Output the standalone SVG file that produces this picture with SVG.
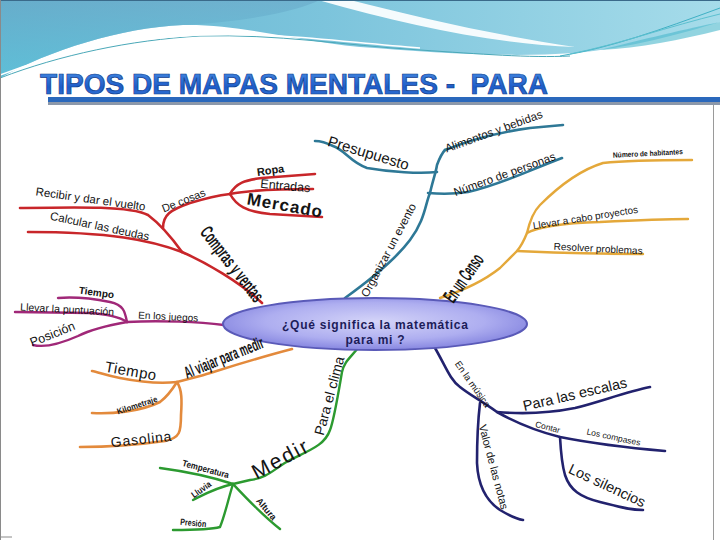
<svg xmlns="http://www.w3.org/2000/svg" width="720" height="540" viewBox="0 0 720 540">
<defs>
<linearGradient id="hdr" x1="0" y1="0" x2="1" y2="0">
<stop offset="0" stop-color="#62b4d0"/>
<stop offset="0.45" stop-color="#7cc4dc"/>
<stop offset="1" stop-color="#a6dcea"/>
</linearGradient>
<linearGradient id="hdrL" x1="0" y1="0" x2="0" y2="1">
<stop offset="0" stop-color="#6aa8c8"/>
<stop offset="1" stop-color="#5cc6dc"/>
</linearGradient>
<linearGradient id="ttl" x1="0" y1="0" x2="0" y2="1">
<stop offset="0" stop-color="#4a8fe6"/>
<stop offset="0.6" stop-color="#1d5cc8"/>
<stop offset="1" stop-color="#3a7ad8"/>
</linearGradient>
<radialGradient id="ell" cx="0.5" cy="0.45" r="0.6">
<stop offset="0" stop-color="#d4d4f8"/>
<stop offset="0.6" stop-color="#aeaef0"/>
<stop offset="1" stop-color="#7c7cdc"/>
</radialGradient>
<style>
.c path{fill:none;stroke-linecap:round;stroke-linejoin:round}
.red{stroke:#c8262a;stroke-width:2.6}
.mag{stroke:#a02878;stroke-width:2.4}
.org{stroke:#e38a3c;stroke-width:2.6}
.gld{stroke:#e4a83a;stroke-width:2.4}
.grn{stroke:#2c9a30;stroke-width:2.4}
.tea{stroke:#2e7896;stroke-width:2.6}
.nav{stroke:#22226e;stroke-width:2.6}
text{font-family:"Liberation Sans",Arial,sans-serif;fill:#141414}
.n{font-family:"Liberation Sans Narrow","Liberation Sans",Arial,sans-serif;font-weight:bold}
.b{font-weight:bold}
.title{font-family:"Liberation Sans Narrow","Liberation Sans",Arial,sans-serif;font-weight:bold;font-size:29px;fill:url(#ttl);stroke:#0c3a8c;stroke-width:0.7;white-space:pre}
.ct{font-weight:bold;font-size:12px;fill:#1c1c58;text-anchor:middle}
</style>
</defs>
<rect width="720" height="540" fill="#ffffff"/>
<!-- header -->
<path d="M0,0 H720 V22 C680,34 630,48 575,53 C500,58 430,52 360,47 C290,40 240,24 183,25 C120,28 50,50 0,78 Z" fill="url(#hdr)"/>
<path d="M0,0 H320 C300,10 250,22 183,25 C120,28 50,50 0,78 Z" fill="url(#hdrL)" opacity="0.6"/>
<path d="M318,0 L350,0 C420,18 500,36 575,47 C495,44 410,26 318,0 Z" fill="#ffffff" opacity="0.92"/>
<path d="M0,78 C60,55 130,40 200,36 C280,34 340,45 420,50 C480,54 530,58 570,56" fill="none" stroke="#4aa8b8" stroke-width="1"/>
<path d="M0,75 C60,52 130,38 200,35 C280,32 340,42 420,48" fill="none" stroke="#ffffff" stroke-width="1.5"/>
<path d="M560,56 C610,48 660,30 720,8" fill="none" stroke="#3fb0c4" stroke-width="1"/>
<path d="M570,54 C620,44 670,26 720,14" fill="none" stroke="#5cc0d0" stroke-width="1"/>
<path d="M600,50 C640,40 690,28 720,22 L720,30 C680,40 640,48 600,50 Z" fill="#4ab8cc" opacity="0.6"/>
<line x1="0" y1="0.5" x2="720" y2="0.5" stroke="#3a6a8a" stroke-width="1"/>
<!-- frame -->
<line x1="0.5" y1="0" x2="0.5" y2="540" stroke="#8a8a8a" stroke-width="1"/>
<line x1="713.5" y1="100" x2="713.5" y2="540" stroke="#9a9a9a" stroke-width="1"/>
<line x1="0" y1="537" x2="12" y2="537" stroke="#8a8a8a" stroke-width="1"/>
<!-- title -->
<g id="title">
<text class="title" x="40" y="94" textLength="508" lengthAdjust="spacingAndGlyphs" xml:space="preserve">TIPOS DE MAPAS MENTALES -  PARA</text>
<rect x="48" y="97" width="672" height="5" fill="#2a68bc"/>
<rect x="48" y="102" width="672" height="3" fill="#8c98aa"/>
</g>
<!-- connectors -->
<g id="connectors" class="c">
<path class="red" d="M262,303 C240,282 205,262 182,252"/>
<path class="red" d="M182,252 C150,240 110,232 28,232"/>
<path class="red" d="M182,252 C172,238 160,224 148,215 C130,206 80,207 20,208"/>
<path class="red" d="M163,228 C163,215 170,210 190,203 C210,197 222,195 230,194"/>
<path class="red" d="M230,194 C236,183 245,180 262,178 L315,174"/>
<path class="red" d="M230,194 C250,190 280,189 313,189"/>
<path class="red" d="M230,194 C236,205 246,212 270,214 L322,217"/>
<path class="mag" d="M224,325 C200,322 160,320 127,322"/>
<path class="mag" d="M127,322 C125,312 124,305 110,302 C90,298 70,297 58,298"/>
<path class="mag" d="M15,312 L90,313 C105,314 118,316 127,322"/>
<path class="mag" d="M127,322 C110,325 90,330 78,336 C60,344 45,348 33,345"/>
<path class="org" d="M292,349 C250,360 220,370 200,376 L177,382"/>
<path class="org" d="M177,382 C160,384 140,382 120,378 C105,375 98,372 92,371"/>
<path class="org" d="M177,382 C172,390 168,396 160,402 C140,412 110,414 92,413"/>
<path class="org" d="M177,382 C182,390 182,400 181,415 C181,432 180,438 165,441 C130,446 100,447 80,447"/>
<path class="grn" d="M358,348 C350,358 344,362 342,372 C338,395 334,420 330,430 C325,445 310,450 290,460 C275,468 268,478 250,480 L233,484"/>
<path class="grn" d="M233,484 C215,478 190,472 160,468"/>
<path class="grn" d="M233,484 C215,488 205,494 193,500"/>
<path class="grn" d="M233,484 C228,500 225,515 220,527 C210,530 190,530 173,530"/>
<path class="grn" d="M233,484 C248,500 262,515 280,529"/>
<path class="tea" d="M345,298 C370,280 395,260 410,240 C425,220 425,205 430,193 C433,180 436,172 437,165 C440,157 443,152 445,150"/>
<path class="tea" d="M445,150 C470,140 500,132 530,128 L563,125"/>
<path class="tea" d="M437,172 C420,174 390,172 367,168 C350,162 345,150 333,146 C325,142 320,141 315,141"/>
<path class="tea" d="M428,193 C440,194 455,194 468,192 C500,185 530,170 562,158"/>
<path class="gld" d="M440,298 C465,290 485,280 500,268 C510,258 515,253 517,251 C522,245 525,238 527,233 C530,220 535,210 540,205 C560,185 580,170 603,163 C630,160 660,160 692,160"/>
<path class="gld" d="M527,233 C535,228 560,223 600,222 C640,220 670,219 688,219"/>
<path class="gld" d="M517,251 C540,252 580,254 643,254"/>
<path class="nav" d="M435,348 C445,365 450,380 460,387 C470,395 480,400 497,412 C520,425 540,432 560,437 C600,445 630,448 665,451"/>
<path class="nav" d="M497,412 C520,414 550,413 575,408 C600,402 625,392 650,387"/>
<path class="nav" d="M560,437 C561,455 562,465 565,475 C570,490 580,497 600,502 C620,507 630,510 643,510"/>
<path class="nav" d="M480,403 C478,420 477,440 477,463 C478,485 485,500 500,510 C510,516 516,519 523,520"/>
</g>
<!-- central node -->
<g id="center">
<ellipse cx="375" cy="324" rx="152" ry="26" fill="url(#ell)" stroke="#5a5ab8" stroke-width="2"/>
<text class="ct" x="375" y="329" textLength="186" lengthAdjust="spacing">¿Qué significa la matemática</text>
<text class="ct" x="375" y="344" textLength="59" lengthAdjust="spacing">para mi ?</text>
</g>
<!-- red branch -->
<g id="compras"><text class="n" font-size="19" text-anchor="middle" textLength="90" lengthAdjust="spacingAndGlyphs" transform="translate(227,268) rotate(52)">Compras y ventas</text></g>
<g id="recibir"><text font-size="11.5" text-anchor="middle" transform="translate(90,203) rotate(8)">Recibir y dar el vuelto</text></g>
<g id="calcular"><text font-size="11.5" text-anchor="middle" transform="translate(99,230) rotate(12)">Calcular las deudas</text></g>
<g id="decosas"><text font-size="11" text-anchor="middle" transform="translate(185,204) rotate(-22)">De cosas</text></g>
<g id="ropa"><text font-size="11" class="b" text-anchor="middle" transform="translate(271,174) rotate(-8)">Ropa</text></g>
<g id="entradas"><text font-size="12.5" text-anchor="middle" transform="translate(285,190) rotate(5)">Entradas</text></g>
<g id="mercado"><text font-size="17" class="b" letter-spacing="1" text-anchor="middle" transform="translate(284,211) rotate(10)">Mercado</text></g>
<!-- magenta branch -->
<g id="juegos"><text font-size="10" text-anchor="middle" transform="translate(168,320) rotate(3)">En los juegos</text></g>
<g id="tiempo1"><text font-size="10" class="b" text-anchor="middle" transform="translate(96,296) rotate(8)">Tiempo</text></g>
<g id="puntuacion"><text font-size="10.5" text-anchor="middle" transform="translate(67,313) rotate(3)">Llevar la puntuación</text></g>
<g id="posicion"><text font-size="12.5" text-anchor="middle" transform="translate(54,338) rotate(-22)">Posición</text></g>
<!-- orange branch -->
<g id="viajar"><text class="n" font-size="17" text-anchor="middle" textLength="84" lengthAdjust="spacingAndGlyphs" transform="translate(226,363) rotate(-22)">Al viajar para medir</text></g>
<g id="tiempo2"><text font-size="15" letter-spacing="0.5" text-anchor="middle" transform="translate(130,376) rotate(10)">Tiempo</text></g>
<g id="kilometraje"><text class="n" font-size="8.5" text-anchor="middle" textLength="42" lengthAdjust="spacingAndGlyphs" transform="translate(138,408) rotate(-18)">Kilometraje</text></g>
<g id="gasolina"><text font-size="14" letter-spacing="0.8" text-anchor="middle" transform="translate(142,444) rotate(-6)">Gasolina</text></g>
<!-- green branch -->
<g id="clima"><text font-size="14" text-anchor="middle" transform="translate(334,397) rotate(-75)">Para el clima</text></g>
<g id="medir"><text font-size="21" letter-spacing="2" text-anchor="middle" transform="translate(284,465) rotate(-28)">Medir</text></g>
<g id="temperatura"><text class="n" font-size="9" text-anchor="middle" textLength="48" lengthAdjust="spacingAndGlyphs" transform="translate(205,472) rotate(15)">Temperatura</text></g>
<g id="lluvia"><text class="n" font-size="9" text-anchor="middle" textLength="22" lengthAdjust="spacingAndGlyphs" transform="translate(203,492) rotate(-35)">Lluvia</text></g>
<g id="presion"><text class="n" font-size="9" text-anchor="middle" textLength="26" lengthAdjust="spacingAndGlyphs" transform="translate(193,526) rotate(5)">Presión</text></g>
<g id="altura"><text class="n" font-size="9" text-anchor="middle" textLength="26" lengthAdjust="spacingAndGlyphs" transform="translate(264,511) rotate(50)">Altura</text></g>
<!-- teal branch -->
<g id="evento"><text font-size="11.5" text-anchor="middle" transform="translate(392,252) rotate(-62)">Organizar un evento</text></g>
<g id="presupuesto"><text font-size="15" text-anchor="middle" transform="translate(367,158) rotate(17)">Presupuesto</text></g>
<g id="alimentos"><text font-size="11.5" text-anchor="middle" transform="translate(495,135) rotate(-20)">Alimentos y bebidas</text></g>
<g id="personas"><text font-size="11.5" text-anchor="middle" transform="translate(506,178) rotate(-20)">Número de personas</text></g>
<!-- gold branch -->
<g id="censo"><text class="n" font-size="20" text-anchor="middle" textLength="54" lengthAdjust="spacingAndGlyphs" transform="translate(469,282) rotate(-55)">En un Censo</text></g>
<g id="habitantes"><text class="n" font-size="7.5" text-anchor="middle" textLength="70" lengthAdjust="spacingAndGlyphs" transform="translate(648,156) rotate(-3)">Número de habitantes</text></g>
<g id="proyectos"><text font-size="10" text-anchor="middle" transform="translate(586,221) rotate(-9)">Llevar a cabo proyectos</text></g>
<g id="problemas"><text font-size="10" text-anchor="middle" transform="translate(598,252) rotate(3)">Resolver problemas</text></g>
<!-- navy branch -->
<g id="musica"><text font-size="9.5" text-anchor="middle" transform="translate(470,386) rotate(55)">En la música</text></g>
<g id="escalas"><text font-size="14.5" text-anchor="middle" transform="translate(576,399) rotate(-13)">Para las escalas</text></g>
<g id="contar"><text font-size="8.5" text-anchor="middle" transform="translate(547,430) rotate(15)">Contar</text></g>
<g id="compases"><text font-size="8.5" text-anchor="middle" transform="translate(613,440) rotate(12)">Los compases</text></g>
<g id="silencios"><text font-size="14.5" text-anchor="middle" transform="translate(605,490) rotate(25)">Los silencios</text></g>
<g id="notas"><text font-size="11" text-anchor="middle" transform="translate(490,468) rotate(75)">Valor de las notas</text></g>
</svg>
